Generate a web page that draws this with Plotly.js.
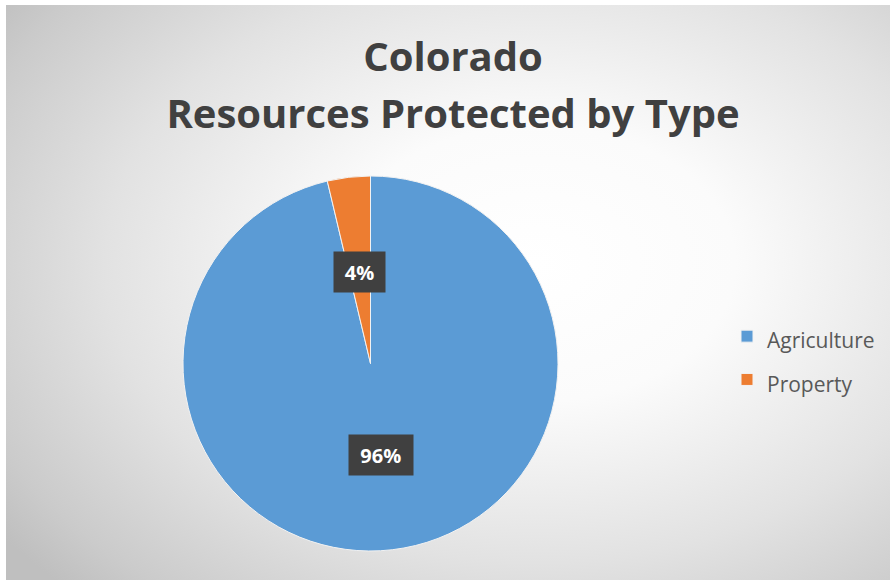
<!DOCTYPE html>
<html>
<head>
<meta charset="utf-8">
<script src="https://cdn.plot.ly/plotly-3.0.1.min.js"></script>
<style>
  html, body { margin:0; padding:0; background:#ffffff; }
  #wrap { position:relative; width:890px; height:580px; overflow:hidden; background:#ffffff; }
  #bg { position:absolute; left:6px; top:5px; width:884px; height:575px;
        background: radial-gradient(ellipse 75% 80% at 60% 45%, #ffffff 0%, #fbfbfb 30%, #e2e2e2 65%, #cbcbcb 90%, #bfbfbf 100%); }
  #chart { position:absolute; left:0; top:0; width:890px; height:580px; }
</style>
</head>
<body>
<div id="wrap">
  <div id="bg"></div>
  <div id="chart"></div>
</div>
<script>
// ---- data ----
const categories = ["Agriculture", "Property"];
const values = [96.3, 3.7];
const sliceColors = ["#5B9BD5", "#ED7D31"];
const titleLines = ["Colorado", "Resources Protected by Type"];

// ---- layout geometry ----
const W = 890, H = 580;
const pieLeft = 183, pieRight = 558, pieTop = 176, pieBottom = 551;
const domX = [pieLeft / W, pieRight / W];
const domY = [1 - pieBottom / H, 1 - pieTop / H];

const total = values.reduce((a, b) => a + b, 0);
const pctText = values.map(v => Math.round(v / total * 100) + "%");

// label positions: mid-angle of each slice, half radius (clockwise from 12 o'clock)
const cx = (pieLeft + pieRight) / 2, cy = (pieTop + pieBottom) / 2;
const R = (pieRight - pieLeft) / 2;
let cum = 0;
const annotations = values.map((v, i) => {
  const mid = (cum + v / 2) / total; cum += v;
  const th = mid * 2 * Math.PI;
  const px = cx + 0.49 * R * Math.sin(th);
  const py = cy - 0.49 * R * Math.cos(th);
  return {
    xref: "paper", yref: "paper", x: px / W, y: 1 - py / H,
    xanchor: "center", yanchor: "middle", showarrow: false,
    text: "<b>" + pctText[i] + "</b>",
    font: { family: "Open Sans", size: 20, color: "#ffffff" },
    bgcolor: "#404040", width: 26 + 12.5 * pctText[i].length, height: 40,
    borderpad: 0
  };
});

const trace = {
  type: "pie",
  labels: categories.map(c => '<span style="font-size:21px">' + c + '</span>'),
  values: values,
  sort: false,
  direction: "clockwise",
  rotation: 0,
  marker: { colors: sliceColors, line: { color: "#f2f2f2", width: 1 } },
  textinfo: "none",
  hoverinfo: "label+percent",
  domain: { x: domX, y: domY }
};

const layout = {
  width: W, height: H,
  margin: { l: 0, r: 0, t: 0, b: 0 },
  paper_bgcolor: "rgba(0,0,0,0)",
  plot_bgcolor: "rgba(0,0,0,0)",
  title: {
    text: titleLines.map(t => '<span style="font-size:40px">' + t + '</span>').join("<br>"),
    font: { family: "Open Sans", size: 44, color: "#404040", weight: "bold" },
    x: 453 / W, xanchor: "center",
    y: 1 - 71 / H, yanchor: "top", yref: "container"
  },
  showlegend: true,
  legend: {
    x: 727 / W, xanchor: "left",
    y: 1 - 358 / H, yanchor: "middle",
    font: { family: "Open Sans", size: 31, color: "#595959" },
    bgcolor: "rgba(0,0,0,0)"
  },
  annotations: annotations
};

Plotly.newPlot("chart", [trace], layout, { displayModeBar: false, staticPlot: true });
</script>
</body>
</html>
